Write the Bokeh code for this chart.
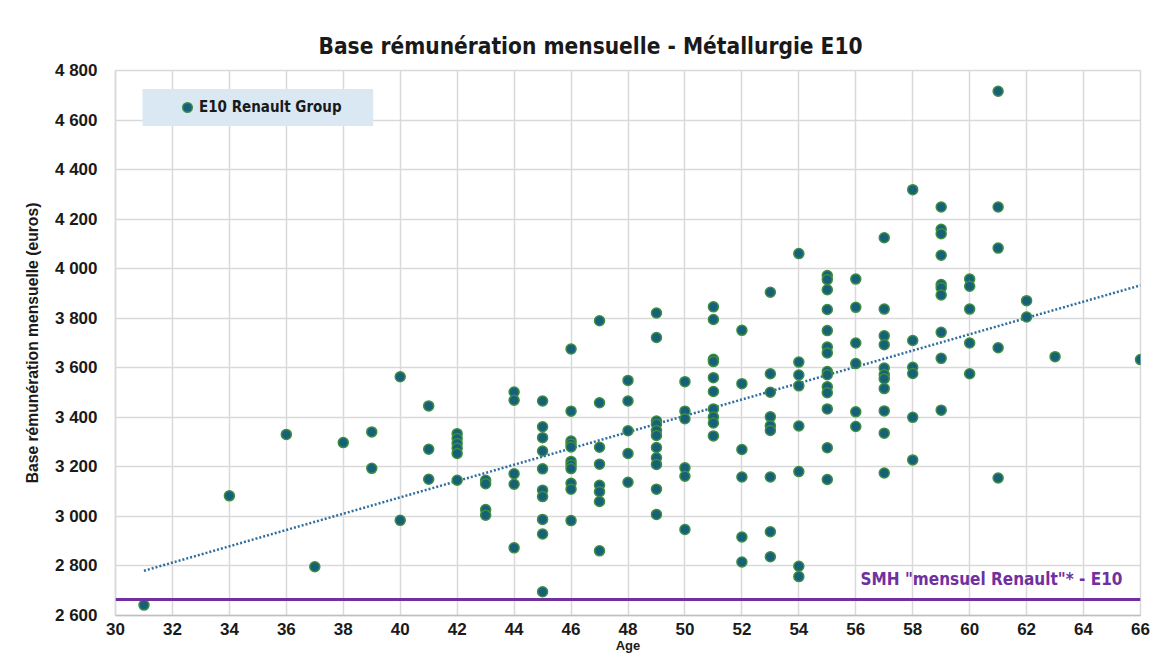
from bokeh.plotting import figure
from bokeh.models import (Span, Label, Legend, LegendItem, BoxAnnotation,
                          FixedTicker, Range1d, ColumnDataSource)
from bokeh.embed import file_html
from bokeh.resources import INLINE
import numpy as np

# ---------------- data ----------------
ages = (
    [31] + [34] + [36] + [37] + [38] + [39] * 2 + [40] * 2 + [41] * 3 + [42] * 6 +
    [43] * 4 + [44] * 5 + [45] * 10 + [46] * 11 + [47] * 8 + [48] * 5 + [49] * 11 +
    [50] * 6 + [51] * 10 + [52] * 6 + [53] * 9 + [54] * 8 + [55] * 14 + [56] * 6 +
    [57] * 11 + [58] * 6 + [59] * 10 + [60] * 5 + [61] * 5 + [62] * 2 + [63] + [66]
)
salaries = [
    2642,                                                     # 31
    3083,                                                     # 34
    3331,                                                     # 36
    2797,                                                     # 37
    3298,                                                     # 38
    3341, 3194,                                               # 39
    3564, 2984,                                               # 40
    3446, 3271, 3150,                                         # 41
    3334, 3314, 3294, 3275, 3254, 3146,                       # 42
    3146, 3132, 3028, 3005,                                   # 43
    3502, 3469, 3172, 3130, 2873,                             # 44
    3466, 3362, 3318, 3264, 3192, 3106, 3080, 2988, 2929, 2696,  # 45
    3676, 3425, 3304, 3292, 3280, 3222, 3208, 3193, 3134, 3110, 2983,  # 46
    3790, 3459, 3279, 3211, 3126, 3100, 3060, 2861,           # 47
    3549, 3466, 3346, 3254, 3138,                             # 48
    3821, 3722, 3385, 3372, 3347, 3327, 3278, 3237, 3210, 3110, 3008,  # 49
    3544, 3425, 3394, 3196, 3162, 2947,                       # 50
    3846, 3795, 3634, 3625, 3560, 3504, 3434, 3401, 3377, 3325,  # 51
    3751, 3536, 3270, 3159, 2917, 2816,                       # 52
    3905, 3576, 3501, 3402, 3366, 3347, 3159, 2938, 2837,     # 53
    4061, 3623, 3571, 3527, 3365, 3181, 2799, 2757,           # 54
    3972, 3956, 3915, 3835, 3750, 3684, 3660, 3585, 3572, 3523, 3499, 3434, 3277, 3149,  # 55
    3958, 3844, 3700, 3617, 3422, 3363,                       # 56
    4125, 3837, 3729, 3693, 3599, 3573, 3556, 3516, 3426, 3336, 3175,  # 57
    4319, 3710, 3602, 3577, 3400, 3228,                       # 58
    4249, 4159, 4141, 4054, 3936, 3923, 3894, 3743, 3638, 3429,  # 59
    3958, 3929, 3837, 3700, 3576,                             # 60
    4716, 4249, 4083, 3681, 3155,                             # 61
    3871, 3805,                                               # 62
    3645,                                                     # 63
    3633,                                                     # 66
]
smh_value = 2665
smh_label = 'SMH "mensuel Renault"* - E10'
series_name = "E10 Renault Group"
title_text = "Base rémunération mensuelle - Métallurgie E10"
x_ticks = [30, 32, 34, 36, 38, 40, 42, 44, 46, 48, 50, 52, 54, 56, 58, 60, 62, 64, 66]
y_ticks = [2600, 2800, 3000, 3200, 3400, 3600, 3800, 4000, 4200, 4400, 4600, 4800]
y_tick_labels = ["2 600", "2 800", "3 000", "3 200", "3 400", "3 600",
                 "3 800", "4 000", "4 200", "4 400", "4 600", "4 800"]

# ---------------- figure ----------------
NARROW = "'DejaVu Sans Condensed', 'Liberation Sans Narrow', sans-serif"
SANS = "'Liberation Sans', Arial, sans-serif"

p = figure(width=1153, height=657, output_backend="svg", toolbar_location=None,
           x_range=Range1d(30, 66), y_range=Range1d(2600, 4800),
           min_border_left=115, min_border_right=13,
           min_border_top=70, min_border_bottom=42)
p.background_fill_color = "white"
p.border_fill_color = "white"
p.outline_line_color = "#D9D9D9"
p.outline_line_width = 1.5

p.title.text = title_text
p.title.text_font = NARROW
p.title.text_font_style = "bold"
p.title.text_font_size = "22.5px"
p.title.text_color = "#1a1a1a"
p.title.align = "left"
p.title.offset = 203
p.title.standoff = 24

# axes
p.xaxis.ticker = FixedTicker(ticks=x_ticks)
p.yaxis.ticker = FixedTicker(ticks=y_ticks)
p.yaxis.major_label_overrides = {t: l for t, l in zip(y_ticks, y_tick_labels)}
for ax in (p.xaxis, p.yaxis):
    ax.major_tick_line_color = None
    ax.minor_tick_line_color = None
    ax.major_tick_out = 0
    ax.major_tick_in = 0
    ax.axis_line_color = "#D9D9D9"
    ax.axis_line_width = 1.5
    ax.major_label_text_font = SANS
    ax.major_label_text_font_style = "bold"
    ax.major_label_text_font_size = "17px"
    ax.major_label_text_color = "#1a1a1a"
    ax.axis_label_text_font = SANS
    ax.axis_label_text_font_style = "bold"
    ax.axis_label_text_color = "#1a1a1a"
p.xaxis.axis_line_color = "#BFBFBF"
p.xaxis.major_label_standoff = 7
p.yaxis.major_label_standoff = 18
p.xaxis.axis_label = "Age"
p.xaxis.axis_label_text_font_size = "13px"
p.xaxis.axis_label_standoff = 0
p.yaxis.axis_label = "Base rémunération mensuelle (euros)"
p.yaxis.axis_label_text_font_size = "15.7px"
p.yaxis.axis_label_standoff = 11

p.xgrid.grid_line_color = "#D9D9D9"
p.ygrid.grid_line_color = "#D9D9D9"
p.xgrid.grid_line_width = 1.5
p.ygrid.grid_line_width = 1.5

# legend background box
p.add_layout(BoxAnnotation(left=30.95, right=39.05, bottom=4576, top=4725,
                           fill_color="#DAE8F3", fill_alpha=1.0, line_alpha=0))

# SMH reference line
p.add_layout(Span(location=smh_value, dimension="width", line_color="#7030A0",
                  line_width=3))
p.add_layout(Label(x=66, y=smh_value, x_offset=-18, y_offset=10, text=smh_label,
                   text_align="right", text_baseline="bottom",
                   text_color="#7030A0", text_font=NARROW,
                   text_font_style="bold", text_font_size="17px"))

# trend line (linear regression of the data)
coef = np.polyfit(ages, salaries, 1)
tx = [min(ages), max(ages)]
ty = list(np.polyval(coef, tx))
p.line(tx, ty, line_dash="2 2", line_width=2.5, line_color="#2E6E9E")

# scatter
src = ColumnDataSource(dict(age=ages, sal=salaries))
r = p.scatter("age", "sal", source=src, size=10, fill_color="#16607A",
              line_color="#3E8E41", line_width=1.5)

legend = Legend(items=[LegendItem(label=series_name, renderers=[r])],
                location=(60, 496), padding=0, margin=0, spacing=0,
                glyph_width=24, glyph_height=24, label_standoff=-2,
                background_fill_alpha=0, border_line_alpha=0,
                label_text_font=NARROW, label_text_font_style="bold",
                label_text_font_size="15px", label_text_color="#1a1a1a")
p.add_layout(legend)

open("out.html", "w").write(file_html(p, INLINE))
